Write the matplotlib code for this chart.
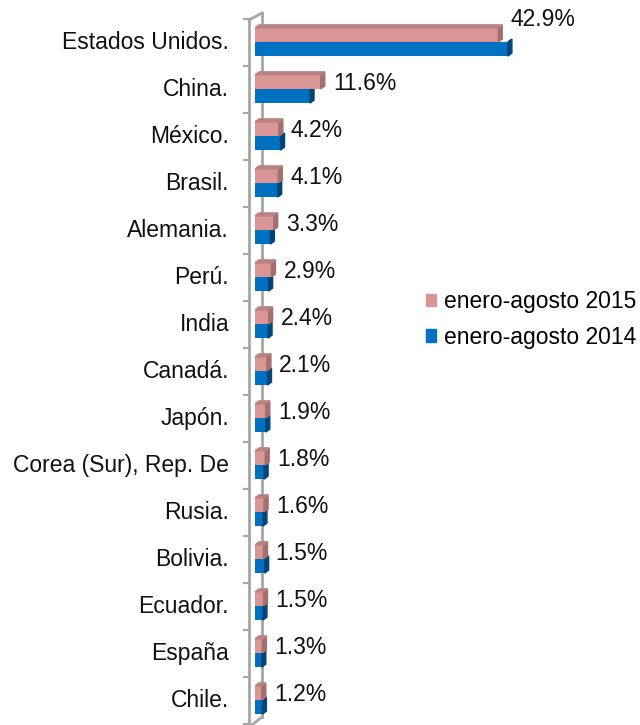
import matplotlib
matplotlib.use("Agg")
import matplotlib.pyplot as plt
from matplotlib.patches import Polygon, Patch

plt.rcParams["font.family"] = ["Liberation Sans", "DejaVu Sans"]

# datos (participación %)
paises = ["Estados Unidos.", "China.", "México.", "Brasil.", "Alemania.", "Perú.",
          "India", "Canadá.", "Japón.", "Corea (Sur), Rep. De", "Rusia.", "Bolivia.",
          "Ecuador.", "España", "Chile."]
v2015 = [42.9, 11.6, 4.2, 4.1, 3.3, 2.9, 2.4, 2.1, 1.9, 1.8, 1.6, 1.5, 1.5, 1.3, 1.2]
v2014 = [44.6, 9.7, 4.5, 4.0, 2.7, 2.4, 2.3, 2.2, 1.9, 1.6, 1.4, 1.7, 1.4, 1.2, 1.3]
etiquetas = [f"{v:.1f}%" for v in v2015]

c15, c15_lado, c15_tope = "#d99694", "#a56f6e", "#b98180"
c14, c14_lado = "#0070c0", "#00457a"
gris = "#a6a6a6"
fs = 16.5

W, H = 640, 725
fig = plt.figure(figsize=(W / 100, H / 100), dpi=100)
ax = fig.add_axes([240 / W, 0, 400 / W, 1])

px = 5.67   # px por punto porcentual
py = 47.0   # px por categoría
ax.set_xlim(-15 / px, 385 / px)
ax.set_ylim((H - 42) / py, -42 / py)
ax.axis("off")

h = 0.30
dx = 4 / px
dy = 3 / py
n = len(paises)
ys = list(range(n))

# paredes grises (efecto 3D)
x_front = -6 / px
x_back = 7 / px
ax.plot([x_front, x_front], [-22 / py, (H - 42) / py], color=gris, lw=2, clip_on=False)
ax.plot([x_back, x_back], [-29 / py, (717 - 42) / py], color=gris, lw=2, clip_on=False, zorder=1)
ax.plot([x_front, x_back], [-22 / py, -29 / py], color=gris, lw=2, clip_on=False)
ax.plot([x_front + 0.5, x_back], [(H - 42) / py, (717 - 42) / py], color=gris, lw=2, clip_on=False)
for i in range(n + 1):
    yb = i - 0.5
    ax.plot([x_front - 5 / px, x_front], [yb, yb], color=gris, lw=1.5, clip_on=False)


def barra3d(y, v, color, lado, tope=None):
    y0, y1 = y - h / 2, y + h / 2
    ax.barh(y, v, height=h, left=0, color=color, zorder=3)
    ax.add_patch(Polygon([(v, y0), (v, y1), (v + dx, y1 - dy), (v + dx, y0 - dy)],
                         closed=True, color=lado, zorder=3))
    if tope:
        ax.add_patch(Polygon([(0, y0), (v, y0), (v + dx, y0 - dy), (dx, y0 - dy)],
                             closed=True, color=tope, zorder=3))


for i in ys:
    barra3d(i + h / 2, v2014[i], c14, c14_lado)
    barra3d(i - h / 2, v2015[i], c15, c15_lado, c15_tope)

    off_y = 15 if i == 0 else -2
    ax.annotate(etiquetas[i], (v2015[i], i - h / 2), xytext=(12, off_y),
                textcoords="offset pixels", ha="left", va="center",
                fontsize=fs, color="#111111")
    ax.text(-26 / px, i, paises[i], ha="right", va="center", fontsize=fs, color="#111111")

handles = [Patch(color=c15, label="enero-agosto 2015"),
           Patch(color=c14, label="enero-agosto 2014")]
fig.legend(handles=handles, loc="upper left", bbox_to_anchor=(426 / W, 1 - 290 / H),
           frameon=False, fontsize=fs, handlelength=0.45, handleheight=0.45,
           handletextpad=0.35, labelspacing=0.55, borderpad=0, borderaxespad=0)

fig.savefig("out.png", dpi=100)
